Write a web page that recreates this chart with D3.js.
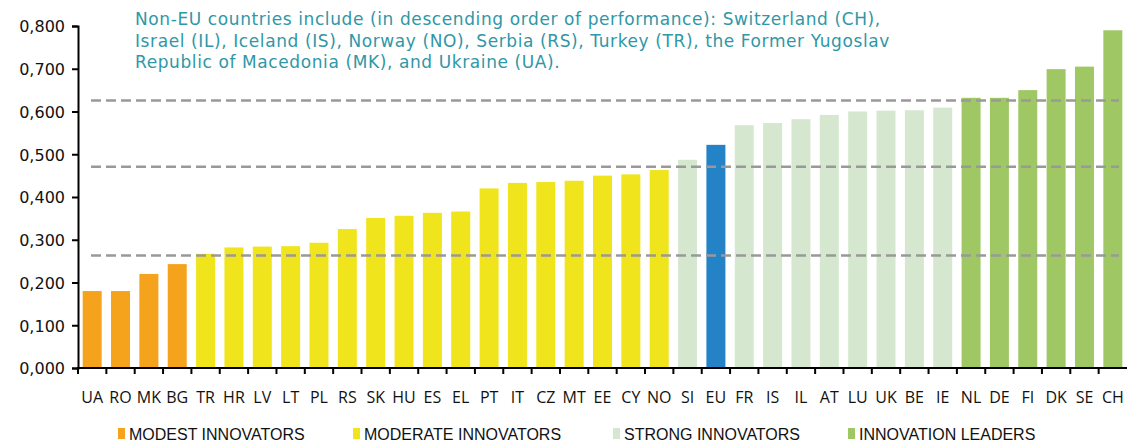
<!DOCTYPE html>
<html>
<head>
<meta charset="utf-8">
<script src="https://cdn.jsdelivr.net/npm/d3@7"></script>
<style>
  body { margin: 0; background: #fff; }
  svg { display: block; }
</style>
</head>
<body>
<div id="chart"></div>
<script>
// Country codes in order of performance
let countries = ["UA", "RO", "MK", "BG", "TR", "HR", "LV", "LT", "PL", "RS", "SK", "HU", "ES", "EL",
  "PT", "IT", "CZ", "MT", "EE", "CY", "NO", "SI", "EU", "FR", "IS", "IL", "AT", "LU", "UK", "BE",
  "IE", "NL", "DE", "FI", "DK", "SE", "CH"];

let scores = [0.180, 0.180, 0.220, 0.243, 0.267, 0.282, 0.284, 0.285, 0.293, 0.325, 0.351, 0.356, 0.363, 0.366,
  0.420, 0.433, 0.435, 0.438, 0.450, 0.453, 0.463, 0.487, 0.522, 0.568, 0.573, 0.582, 0.592, 0.600, 0.602, 0.603,
  0.609, 0.632, 0.632, 0.650, 0.699, 0.705, 0.790];

// group of each country: 0 modest, 1 moderate, 2 strong, 3 leader, -1 = EU average
let groups = [0, 0, 0, 0, 1, 1, 1, 1, 1, 1, 1, 1, 1, 1,
  1, 1, 1, 1, 1, 1, 1, 2, -1, 2, 2, 2, 2, 2, 2, 2,
  2, 3, 3, 3, 3, 3, 3];

let legendLabels = ["MODEST INNOVATORS", "MODERATE INNOVATORS", "STRONG INNOVATORS", "INNOVATION LEADERS"];
let groupColours = ["#f5a31d", "#f0e41c", "#d5e8cf", "#9fc864"];
let euColour = "#2383c6";

// group thresholds (dashed lines)
let thresholds = [0.263, 0.471, 0.626];

let yTicks = [0, 0.1, 0.2, 0.3, 0.4, 0.5, 0.6, 0.7, 0.8];

let noteLines = [
  "Non-EU countries include (in descending order of performance): Switzerland (CH),",
  "Israel (IL), Iceland (IS), Norway (NO), Serbia (RS), Turkey (TR), the Former Yugoslav",
  "Republic of Macedonia (MK), and Ukraine (UA)."
];

let width = 1127, height = 443;
let margin = { left: 78, right: 0, top: 25, bottom: 75 };

let svg = d3.select("#chart").append("svg")
  .attr("width", width)
  .attr("height", height);

let x = d3.scaleBand()
  .domain(countries)
  .range([margin.left, width - margin.right])
  .paddingInner(0.33)
  .paddingOuter(0.165);

let y = d3.scaleLinear()
  .domain([0, 0.8])
  .range([368, 26]);

let data = countries.map((c, i) => ({ code: c, value: scores[i], group: groups[i] }));

// bars
svg.append("g")
  .selectAll("rect")
  .data(data)
  .enter()
  .append("rect")
  .attr("x", (d) => x(d.code))
  .attr("width", x.bandwidth())
  .attr("y", (d) => y(d.value))
  .attr("height", (d) => y(0) - y(d.value))
  .attr("fill", (d) => (d.group < 0 ? euColour : groupColours[d.group]));

// dashed threshold lines
svg.append("g")
  .selectAll("line")
  .data(thresholds)
  .enter()
  .append("line")
  .attr("x1", 91)
  .attr("x2", 1119)
  .attr("y1", (d) => y(d))
  .attr("y2", (d) => y(d))
  .attr("stroke", "#999")
  .attr("stroke-width", 2.5)
  .attr("stroke-dasharray", "10,5");

// y axis
let yAxis = d3.axisLeft(y)
  .tickValues(yTicks)
  .tickSize(6)
  .tickFormat((d) => d3.format(".3f")(d).replace(".", ","));

let yg = svg.append("g")
  .attr("transform", `translate(${margin.left},0)`)
  .call(yAxis);

yg.select(".domain").attr("stroke", "#000").attr("stroke-width", 2);
yg.selectAll(".tick line").attr("stroke", "#000").attr("stroke-width", 2);
yg.selectAll(".tick text")
  .attr("x", -13)
  .attr("dy", "0.36em")
  .style("font-family", "DejaVu Sans, sans-serif")
  .style("font-size", "16px")
  .attr("fill", "#111");

// x axis line with ticks at band edges
let xg = svg.append("g");
xg.append("line")
  .attr("x1", margin.left - 1)
  .attr("x2", width)
  .attr("y1", y(0))
  .attr("y2", y(0))
  .attr("stroke", "#000")
  .attr("stroke-width", 2);

xg.selectAll(".xtick")
  .data(countries)
  .enter()
  .append("line")
  .attr("class", "xtick")
  .attr("x1", (d) => x(d) - x.step() * x.paddingInner() / 2)
  .attr("x2", (d) => x(d) - x.step() * x.paddingInner() / 2)
  .attr("y1", y(0))
  .attr("y2", y(0) + 6)
  .attr("stroke", "#000")
  .attr("stroke-width", 2);

xg.selectAll(".xlabel")
  .data(countries)
  .enter()
  .append("text")
  .attr("class", "xlabel")
  .attr("x", (d) => x(d) + x.bandwidth() / 2)
  .attr("y", 403)
  .attr("text-anchor", "middle")
  .style("font-family", "Open Sans, sans-serif")
  .style("font-size", "16px")
  .attr("fill", "#111")
  .text((d) => d);

// note
svg.append("g")
  .selectAll("text")
  .data(noteLines)
  .enter()
  .append("text")
  .attr("x", 135)
  .attr("y", (d, i) => 25 + i * 21.5)
  .style("font-family", "DejaVu Sans, sans-serif")
  .style("font-size", "17px")
  .style("letter-spacing", "0.6px")
  .attr("fill", "#2f97a7")
  .text((d) => d);

// legend
let legendX = [118, 353, 613, 848];
let legend = svg.append("g")
  .selectAll("g")
  .data(legendLabels)
  .enter()
  .append("g")
  .attr("transform", (d, i) => `translate(${legendX[i]},428)`);

legend.append("rect")
  .attr("width", 7)
  .attr("height", 11)
  .attr("fill", (d, i) => groupColours[i]);

legend.append("text")
  .attr("x", 11)
  .attr("y", 12)
  .style("font-family", "Liberation Sans, sans-serif")
  .style("font-size", "16px")
  .attr("fill", "#111")
  .text((d) => d);
</script>
</body>
</html>
